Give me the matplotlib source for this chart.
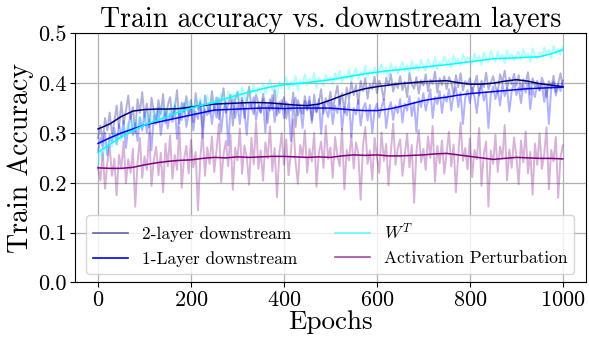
import matplotlib
matplotlib.use("Agg")
import matplotlib.pyplot as plt
from matplotlib.lines import Line2D
import numpy as np

plt.rcParams["font.family"] = ["cmr10", "DejaVu Serif"]
plt.rcParams["mathtext.fontset"] = "cm"
plt.rcParams["axes.unicode_minus"] = False
plt.rcParams["axes.formatter.use_mathtext"] = True

# raw training accuracy, sampled every 5 epochs
raw_epochs = list(range(0, 1001, 5))

two_layer_raw = [
    0.290, 0.315, 0.282, 0.330, 0.305, 0.341, 0.298, 0.322, 0.355, 0.310,
    0.362, 0.318, 0.345, 0.375, 0.328, 0.352, 0.301, 0.368, 0.340, 0.382,
    0.331, 0.359, 0.312, 0.371, 0.344, 0.325, 0.366, 0.338, 0.378, 0.320,
    0.355, 0.372, 0.330, 0.349, 0.386, 0.318, 0.361, 0.343, 0.374, 0.335,
    0.366, 0.322, 0.380, 0.347, 0.360, 0.308, 0.375, 0.352, 0.339, 0.384,
    0.345, 0.371, 0.328, 0.362, 0.390, 0.340, 0.357, 0.377, 0.315, 0.368,
    0.382, 0.346, 0.371, 0.330, 0.364, 0.393, 0.351, 0.338, 0.376, 0.360,
    0.342, 0.379, 0.355, 0.320, 0.368, 0.347, 0.386, 0.335, 0.362, 0.351,
    0.372, 0.329, 0.358, 0.345, 0.381, 0.312, 0.366, 0.350, 0.338, 0.374,
    0.348, 0.365, 0.326, 0.377, 0.343, 0.360, 0.388, 0.339, 0.370, 0.355,
    0.383, 0.346, 0.372, 0.395, 0.358, 0.380, 0.341, 0.391, 0.367, 0.402,
    0.376, 0.396, 0.358, 0.405, 0.384, 0.410, 0.369, 0.398, 0.388, 0.413,
    0.380, 0.405, 0.392, 0.366, 0.411, 0.395, 0.418, 0.383, 0.401, 0.390,
    0.414, 0.386, 0.403, 0.372, 0.420, 0.398, 0.389, 0.412, 0.379, 0.406,
    0.395, 0.418, 0.384, 0.407, 0.399, 0.423, 0.381, 0.410, 0.396, 0.414,
    0.388, 0.412, 0.401, 0.378, 0.416, 0.392, 0.420, 0.385, 0.404, 0.397,
    0.410, 0.382, 0.398, 0.415, 0.375, 0.405, 0.392, 0.421, 0.388, 0.401,
    0.414, 0.393, 0.380, 0.418, 0.402, 0.425, 0.389, 0.411, 0.398, 0.419,
    0.395, 0.416, 0.384, 0.408, 0.400, 0.422, 0.377, 0.410, 0.393, 0.405,
    0.386, 0.411, 0.397, 0.372, 0.404, 0.390, 0.415, 0.382, 0.399, 0.420,
    0.392,
]

one_layer_raw = [
    0.262, 0.290, 0.271, 0.301, 0.255, 0.296, 0.283, 0.310, 0.277, 0.318,
    0.292, 0.325, 0.270, 0.312, 0.338, 0.296, 0.320, 0.284, 0.331, 0.305,
    0.342, 0.301, 0.327, 0.265, 0.335, 0.318, 0.350, 0.296, 0.331, 0.344,
    0.309, 0.339, 0.322, 0.355, 0.288, 0.342, 0.326, 0.360, 0.312, 0.338,
    0.351, 0.305, 0.343, 0.328, 0.365, 0.290, 0.347, 0.336, 0.360, 0.318,
    0.354, 0.331, 0.370, 0.302, 0.349, 0.362, 0.275, 0.345, 0.368, 0.330,
    0.357, 0.318, 0.366, 0.343, 0.296, 0.361, 0.349, 0.372, 0.326, 0.355,
    0.340, 0.368, 0.301, 0.357, 0.345, 0.376, 0.322, 0.359, 0.340, 0.366,
    0.330, 0.362, 0.350, 0.284, 0.357, 0.371, 0.335, 0.352, 0.310, 0.364,
    0.345, 0.373, 0.320, 0.356, 0.341, 0.368, 0.298, 0.360, 0.349, 0.332,
    0.362, 0.318, 0.355, 0.340, 0.370, 0.306, 0.352, 0.335, 0.364, 0.292,
    0.350, 0.337, 0.366, 0.315, 0.348, 0.360, 0.325, 0.356, 0.300, 0.345,
    0.359, 0.331, 0.352, 0.368, 0.310, 0.347, 0.362, 0.326, 0.355, 0.340,
    0.368, 0.321, 0.359, 0.345, 0.374, 0.334, 0.362, 0.302, 0.370, 0.352,
    0.380, 0.345, 0.366, 0.387, 0.330, 0.372, 0.358, 0.384, 0.340, 0.376,
    0.363, 0.388, 0.345, 0.378, 0.392, 0.352, 0.381, 0.318, 0.370, 0.386,
    0.360, 0.391, 0.372, 0.340, 0.385, 0.396, 0.365, 0.382, 0.310, 0.377,
    0.393, 0.368, 0.386, 0.355, 0.398, 0.374, 0.390, 0.343, 0.384, 0.401,
    0.376, 0.392, 0.360, 0.397, 0.381, 0.404, 0.348, 0.388, 0.372, 0.399,
    0.385, 0.400, 0.362, 0.394, 0.318, 0.389, 0.403, 0.375, 0.397, 0.384,
    0.405,
]

wt_raw = [
    0.232, 0.268, 0.245, 0.281, 0.258, 0.290, 0.272, 0.301, 0.279, 0.296,
    0.285, 0.312, 0.294, 0.320, 0.300, 0.328, 0.305, 0.318, 0.334, 0.310,
    0.325, 0.341, 0.315, 0.336, 0.348, 0.322, 0.342, 0.330, 0.355, 0.338,
    0.329, 0.350, 0.337, 0.362, 0.341, 0.353, 0.332, 0.360, 0.346, 0.365,
    0.348, 0.339, 0.364, 0.352, 0.371, 0.345, 0.360, 0.376, 0.350, 0.366,
    0.358, 0.372, 0.349, 0.380, 0.364, 0.355, 0.383, 0.368, 0.377, 0.362,
    0.385, 0.368, 0.392, 0.374, 0.360, 0.389, 0.380, 0.398, 0.376, 0.391,
    0.383, 0.400, 0.378, 0.394, 0.407, 0.385, 0.396, 0.372, 0.403, 0.390,
    0.398, 0.412, 0.388, 0.403, 0.394, 0.415, 0.384, 0.406, 0.398, 0.418,
    0.396, 0.409, 0.402, 0.420, 0.390, 0.411, 0.404, 0.395, 0.417, 0.405,
    0.412, 0.398, 0.420, 0.407, 0.425, 0.402, 0.416, 0.409, 0.428, 0.404,
    0.418, 0.430, 0.409, 0.422, 0.414, 0.435, 0.411, 0.426, 0.419, 0.432,
    0.415, 0.428, 0.438, 0.420, 0.431, 0.412, 0.440, 0.425, 0.434, 0.419,
    0.430, 0.442, 0.424, 0.436, 0.418, 0.445, 0.429, 0.438, 0.426, 0.447,
    0.433, 0.425, 0.448, 0.437, 0.430, 0.451, 0.428, 0.443, 0.436, 0.454,
    0.439, 0.447, 0.431, 0.456, 0.440, 0.449, 0.435, 0.458, 0.444, 0.452,
    0.447, 0.438, 0.460, 0.445, 0.455, 0.436, 0.462, 0.450, 0.443, 0.465,
    0.452, 0.444, 0.463, 0.448, 0.457, 0.440, 0.466, 0.451, 0.459, 0.446,
    0.455, 0.463, 0.447, 0.468, 0.452, 0.460, 0.443, 0.470, 0.456, 0.449,
    0.462, 0.454, 0.472, 0.458, 0.467, 0.450, 0.475, 0.461, 0.469, 0.457,
    0.473,
]

act_pert_raw = [
    0.231, 0.205, 0.262, 0.188, 0.240, 0.275, 0.214, 0.248, 0.175, 0.256,
    0.228, 0.283, 0.199, 0.247, 0.220, 0.268, 0.152, 0.241, 0.290, 0.210,
    0.253, 0.226, 0.301, 0.194, 0.247, 0.272, 0.215, 0.260, 0.181, 0.279,
    0.233, 0.295, 0.208, 0.256, 0.226, 0.312, 0.190, 0.248, 0.274, 0.219,
    0.286, 0.231, 0.262, 0.145, 0.250, 0.305, 0.214, 0.271, 0.238, 0.293,
    0.222, 0.266, 0.318, 0.201, 0.257, 0.284, 0.233, 0.296, 0.186, 0.270,
    0.245, 0.309, 0.218, 0.275, 0.252, 0.196, 0.290, 0.237, 0.322, 0.228,
    0.265, 0.204, 0.281, 0.249, 0.313, 0.223, 0.270, 0.171, 0.258, 0.299,
    0.236, 0.287, 0.215, 0.262, 0.327, 0.241, 0.198, 0.276, 0.253, 0.305,
    0.220, 0.268, 0.243, 0.300, 0.192, 0.259, 0.283, 0.230, 0.315, 0.248,
    0.271, 0.210, 0.292, 0.254, 0.233, 0.308, 0.187, 0.266, 0.245, 0.297,
    0.229, 0.281, 0.259, 0.166, 0.274, 0.312, 0.238, 0.265, 0.206, 0.290,
    0.252, 0.220, 0.301, 0.244, 0.278, 0.195, 0.263, 0.319, 0.236, 0.270,
    0.287, 0.214, 0.256, 0.298, 0.231, 0.276, 0.160, 0.262, 0.306, 0.241,
    0.268, 0.226, 0.293, 0.250, 0.314, 0.202, 0.274, 0.239, 0.285, 0.218,
    0.261, 0.302, 0.233, 0.277, 0.181, 0.256, 0.321, 0.244, 0.270, 0.227,
    0.289, 0.211, 0.266, 0.247, 0.310, 0.194, 0.258, 0.283, 0.152, 0.265,
    0.238, 0.296, 0.222, 0.273, 0.249, 0.316, 0.205, 0.267, 0.230, 0.291,
    0.254, 0.197, 0.285, 0.241, 0.303, 0.219, 0.262, 0.176, 0.279, 0.236,
    0.299, 0.228, 0.257, 0.311, 0.187, 0.266, 0.243, 0.292, 0.170, 0.251,
    0.275,
]

# smoothed curves, sampled every 25 epochs
smooth_epochs = list(range(0, 1001, 25))

two_layer_smooth = [
    0.308, 0.318, 0.333, 0.344, 0.347, 0.348, 0.348, 0.349, 0.352, 0.355,
    0.358, 0.359, 0.360, 0.361, 0.361, 0.360, 0.358, 0.356, 0.355, 0.358,
    0.366, 0.375, 0.383, 0.389, 0.393, 0.396, 0.399, 0.401, 0.403, 0.404,
    0.405, 0.401, 0.398, 0.398, 0.400, 0.404, 0.407, 0.404, 0.399, 0.396,
    0.393,
]
one_layer_smooth = [
    0.279, 0.290, 0.300, 0.308, 0.316, 0.321, 0.326, 0.331, 0.336, 0.341,
    0.346, 0.347, 0.348, 0.349, 0.350, 0.350, 0.349, 0.350, 0.350, 0.350,
    0.350, 0.348, 0.346, 0.345, 0.345, 0.348, 0.353, 0.359, 0.365, 0.369,
    0.372, 0.376, 0.379, 0.381, 0.383, 0.385, 0.387, 0.389, 0.390, 0.391,
    0.392,
]
wt_smooth = [
    0.261, 0.277, 0.292, 0.305, 0.316, 0.325, 0.333, 0.342, 0.350, 0.356,
    0.361, 0.369, 0.376, 0.382, 0.388, 0.393, 0.397, 0.399, 0.401, 0.404,
    0.407, 0.411, 0.415, 0.419, 0.422, 0.425, 0.427, 0.430, 0.432, 0.435,
    0.437, 0.440, 0.443, 0.446, 0.449, 0.450, 0.451, 0.452, 0.453, 0.459,
    0.467,
]
act_pert_smooth = [
    0.230, 0.229, 0.229, 0.231, 0.236, 0.240, 0.243, 0.245, 0.246, 0.249,
    0.251, 0.250, 0.252, 0.251, 0.252, 0.253, 0.253, 0.252, 0.251, 0.252,
    0.251, 0.254, 0.256, 0.255, 0.256, 0.254, 0.254, 0.255, 0.256, 0.258,
    0.259, 0.256, 0.253, 0.250, 0.247, 0.249, 0.251, 0.250, 0.249, 0.249,
    0.248,
]

series = [
    ("2-layer downstream", "navy", two_layer_raw, two_layer_smooth, 0.6),
    ("1-Layer downstream", "blue", one_layer_raw, one_layer_smooth, 1.0),
    ("$W^T$", "cyan", wt_raw, wt_smooth, 0.6),
    ("Activation Perturbation", "purple", act_pert_raw, act_pert_smooth, 0.7),
]

fig, ax = plt.subplots(figsize=(5.89, 3.37), dpi=100)
fig.subplots_adjust(left=0.127, right=0.995, bottom=0.162, top=0.901)

for _, color, raw, _, _ in series:
    ax.plot(raw_epochs, raw, color=color, alpha=0.3, linewidth=1.4)
for _, color, _, smooth, _ in series:
    ax.plot(smooth_epochs, smooth, color=color, linewidth=1.1)

ax.set_xlim(-50, 1050)
ax.set_ylim(0, 0.5)
ax.set_xticks([0, 200, 400, 600, 800, 1000])
ax.set_yticks(np.arange(0, 0.51, 0.1))
ax.yaxis.set_major_formatter(matplotlib.ticker.FormatStrFormatter("%.1f"))
ax.tick_params(labelsize=16, pad=2.5)
ax.grid(True, color="#b0b0b0", linewidth=0.9)

ax.set_title("Train accuracy vs. downstream layers", fontsize=20, pad=4)
ax.set_xlabel("Epochs", fontsize=19.5, labelpad=0)
ax.set_ylabel("Train Accuracy", fontsize=20, labelpad=3)

handles = [Line2D([], [], color=c, alpha=a, linewidth=1.2) for _, c, _, _, a in series]
labels = [s[0] for s in series]
ax.legend(handles, labels, loc="lower center", ncol=2, fontsize=12.5,
          columnspacing=2.2, handlelength=2.0)

fig.savefig("out.png", dpi=100)
